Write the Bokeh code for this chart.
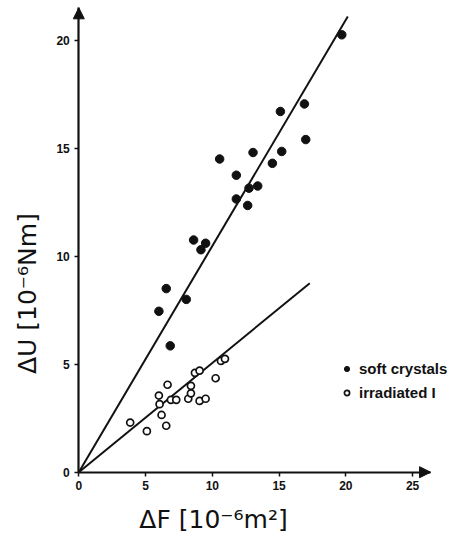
import math
from bokeh.plotting import figure
from bokeh.models import Legend, LegendItem, Label, Arrow, NormalHead, FixedTicker
from bokeh.embed import file_html
from bokeh.resources import INLINE

# soft crystals (filled)
soft_x = [19.7, 16.9, 15.1, 17.0, 13.05, 15.2, 10.55, 14.5, 11.8, 12.75,
          13.4, 11.8, 12.65, 8.6, 9.5, 9.15, 6.55, 8.05, 6.0, 6.85]
soft_y = [20.25, 17.05, 16.7, 15.4, 14.8, 14.85, 14.5, 14.3, 13.75, 13.15,
          13.25, 12.65, 12.35, 10.75, 10.6, 10.3, 8.5, 8.0, 7.45, 5.85]

# irradiated I (open)
irr_x = [3.85, 5.1, 6.0, 6.05, 6.2, 6.55, 6.65, 6.9, 7.3, 8.2,
         8.4, 8.4, 8.7, 9.05, 9.05, 9.5, 10.25, 10.65, 10.95]
irr_y = [2.3, 1.9, 3.55, 3.15, 2.65, 2.15, 4.05, 3.35, 3.35, 3.4,
         4.0, 3.65, 4.6, 4.7, 3.3, 3.4, 4.35, 5.15, 5.25]

# regression lines (end points)
soft_fit_x = [0, 20.15]
soft_fit_y = [0, 21.1]
irr_fit_x = [0, 17.3]
irr_fit_y = [0, 8.75]

x_ticks = [0, 5, 10, 15, 20, 25]
y_ticks = [0, 5, 10, 15, 20]
x_axis_end = 26.35
y_axis_end = 21.5
x_label = "ΔF [10⁻⁶m²]"
y_label = "ΔU [10⁻⁶Nm]"
legend_labels = ["soft crystals", "irradiated I"]

INK = "#111111"

p = figure(width=457, height=538, output_backend="svg", toolbar_location=None,
           x_range=(-5.865, 28.367), y_range=(-3.069, 21.838),
           min_border=0)
p.grid.visible = False
p.outline_line_color = None
p.background_fill_color = "white"
p.border_fill_color = "white"

p.xaxis.bounds = (0, x_axis_end)
p.yaxis.bounds = (0, y_axis_end)
p.xaxis.fixed_location = 0
p.yaxis.fixed_location = 0
for ax, ticks in ((p.xaxis, x_ticks), (p.yaxis, y_ticks)):
    ax.ticker = FixedTicker(ticks=ticks)
    ax.axis_line_width = 2.2
    ax.axis_line_color = INK
    ax.major_tick_line_width = 1.5
    ax.major_tick_line_color = INK
    ax.major_tick_out = 4
    ax.major_tick_in = 0
    ax.minor_tick_line_color = None
    ax.major_label_text_font = "Liberation Sans"
    ax.major_label_text_font_style = "bold"
    ax.major_label_text_font_size = "12px"
    ax.major_label_text_color = INK
    ax.major_label_standoff = 5

p.line(soft_fit_x, soft_fit_y, line_color=INK, line_width=2)
p.line(irr_fit_x, irr_fit_y, line_color=INK, line_width=2)

r_soft = p.scatter(soft_x, soft_y, marker="circle", size=8.5,
                   fill_color=INK, line_color=INK, line_width=1)
r_irr = p.scatter(irr_x, irr_y, marker="circle", size=7,
                  fill_color="white", line_color=INK, line_width=1.7)

legend = Legend(items=[LegendItem(label=legend_labels[0], renderers=[r_soft]),
                       LegendItem(label=legend_labels[1], renderers=[r_irr])],
                location=(340, 136), glyph_width=13, glyph_height=13,
                label_height=20, spacing=4, padding=0, margin=0,
                label_standoff=6, border_line_color=None,
                background_fill_alpha=0,
                label_text_font="Liberation Sans", label_text_font_style="bold",
                label_text_font_size="15px", label_text_color=INK)
p.add_layout(legend)

# axis arrow heads
p.add_layout(Arrow(x_start=0, y_start=y_axis_end - 0.8, x_end=0, y_end=y_axis_end,
                   line_width=0, line_alpha=0,
                   end=NormalHead(size=11, fill_color=INK, line_color=INK)))
p.add_layout(Arrow(x_start=x_axis_end - 1.0, y_start=0, x_end=x_axis_end, y_end=0,
                   line_width=0, line_alpha=0,
                   end=NormalHead(size=11, fill_color=INK, line_color=INK)))

p.add_layout(Label(x=10.09, y=-2.19, text=x_label, text_align="center",
                   text_baseline="middle", text_font="DejaVu Sans",
                   text_font_size="25px", text_color=INK))
p.add_layout(Label(x=-3.84, y=8.27, text=y_label, text_align="center",
                   text_baseline="middle", angle=math.pi / 2,
                   text_font="DejaVu Sans",
                   text_font_size="25px", text_color=INK))

open("out.html", "w").write(file_html(p, INLINE))
